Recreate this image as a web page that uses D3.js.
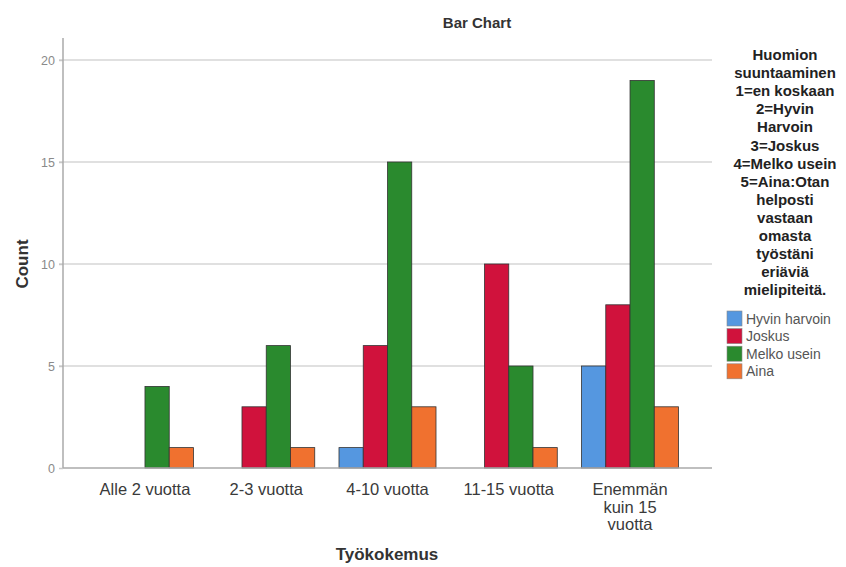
<!DOCTYPE html>
<html>
<head>
<meta charset="utf-8">
<script src="https://cdn.jsdelivr.net/npm/d3@7"></script>
<style>
  body { margin: 0; background: #fff; }
  svg { display: block; font-family: Arial, "Liberation Sans", sans-serif; }
</style>
</head>
<body>
<svg id="chart" width="846" height="567"></svg>
<script>
// Work experience groups
const categories = [["Alle 2 vuotta"], ["2-3 vuotta"], ["4-10 vuotta"], ["11-15 vuotta"], ["Enemmän", "kuin 15", "vuotta"]];
const seriesNames = ["Hyvin harvoin", "Joskus", "Melko usein", "Aina"];
const hyvinHarvoin = [0, 0, 1, 0, 5];
const joskus = [0, 3, 6, 10, 8];
const melkoUsein = [4, 6, 15, 5, 19];
const aina = [1, 1, 3, 1, 3];
const yTicks = [0, 5, 10, 15, 20];
const legendTitle = ["Huomion", "suuntaaminen", "1=en koskaan", "2=Hyvin", "Harvoin", "3=Joskus",
  "4=Melko usein", "5=Aina:Otan", "helposti", "vastaan", "omasta", "työstäni", "eriäviä", "mielipiteitä."];
const colors = ["#5597e0", "#d0123c", "#2a8a2e", "#f0712f"];

const seriesValues = [hyvinHarvoin, joskus, melkoUsein, aina];
const svg = d3.select("#chart");

const plotL = 63, plotR = 712, plotT = 38, plotB = 468;

const catKeys = categories.map(c => c.join(" "));
const x = d3.scaleBand().domain(catKeys).range([plotL, plotR]).paddingInner(0.2).paddingOuter(0.276);
const xs = d3.scaleBand().domain(seriesNames).range([0, x.bandwidth()]);
const y = d3.scaleLinear().domain([0, 21]).range([plotB, plotB - 21 * (408 / 20)]);

// Gridlines
svg.append("g").selectAll("line").data(yTicks.filter(t => t > 0)).join("line")
  .attr("x1", plotL - 4).attr("x2", plotR)
  .attr("y1", d => y(d)).attr("y2", d => y(d))
  .attr("stroke", "#d6d6d6").attr("stroke-width", 1.5);

// Y axis
const yAxis = svg.append("g").attr("transform", `translate(${plotL},0)`)
  .call(d3.axisLeft(y).tickValues(yTicks).tickSize(4).tickPadding(4));
yAxis.select(".domain").remove();
yAxis.selectAll(".tick line").attr("stroke", "#c8c8c8").attr("stroke-width", 1.5);
yAxis.selectAll("text").attr("fill", "#8a8a8a").attr("font-size", 12.5);
svg.append("line").attr("x1", plotL).attr("x2", plotL).attr("y1", plotT).attr("y2", plotB)
  .attr("stroke", "#aaa").attr("stroke-width", 1.5);

// Bars
const bars = [];
catKeys.forEach((c, i) => seriesNames.forEach((s, j) => {
  if (seriesValues[j][i] > 0) bars.push({ c, s, j, v: seriesValues[j][i] });
}));
svg.append("g").selectAll("rect").data(bars).join("rect")
  .attr("x", d => x(d.c) + xs(d.s))
  .attr("width", xs.bandwidth())
  .attr("y", d => y(d.v))
  .attr("height", d => y(0) - y(d.v))
  .attr("fill", d => colors[d.j])
  .attr("stroke", "#333").attr("stroke-width", 0.8);

// X axis baseline
svg.append("line").attr("x1", plotL).attr("x2", plotR).attr("y1", plotB).attr("y2", plotB)
  .attr("stroke", "#aaa").attr("stroke-width", 1.5);

// Category labels
const xl = svg.append("g").selectAll("text").data(categories).join("text")
  .attr("x", (d, i) => x(catKeys[i]) + x.bandwidth() / 2)
  .attr("y", 495)
  .attr("text-anchor", "middle").attr("font-size", 16.5).attr("fill", "#3a3a3a");
xl.selectAll("tspan").data(d => d).join("tspan")
  .attr("x", function () { return this.parentNode.getAttribute("x"); })
  .attr("dy", (d, i) => i === 0 ? 0 : 17.5)
  .text(d => d);

// Titles
svg.append("text").attr("x", 477).attr("y", 28).attr("text-anchor", "middle")
  .attr("font-size", 15).attr("font-weight", "bold").attr("fill", "#333").text("Bar Chart");
svg.append("text").attr("x", 387).attr("y", 560).attr("text-anchor", "middle")
  .attr("font-size", 17).attr("font-weight", "bold").attr("fill", "#333").text("Työkokemus");
svg.append("text").attr("transform", "translate(28,264) rotate(-90)").attr("text-anchor", "middle")
  .attr("font-size", 17).attr("font-weight", "bold").attr("fill", "#333").text("Count");

// Legend
svg.append("g").selectAll("text").data(legendTitle).join("text")
  .attr("x", 785).attr("y", (d, i) => 60 + i * 18.1)
  .attr("text-anchor", "middle").attr("font-size", 15).attr("font-weight", "bold")
  .attr("fill", "#222").text(d => d);

const lg = svg.append("g").selectAll("g").data(seriesNames).join("g")
  .attr("transform", (d, i) => `translate(727,${311 + i * 17.6})`);
lg.append("rect").attr("width", 15).attr("height", 15)
  .attr("fill", (d, i) => colors[i]).attr("stroke", "#888").attr("stroke-width", 0.6);
lg.append("text").attr("x", 19).attr("y", 12.5).attr("font-size", 14).attr("fill", "#555").text(d => d);
</script>
</body>
</html>
